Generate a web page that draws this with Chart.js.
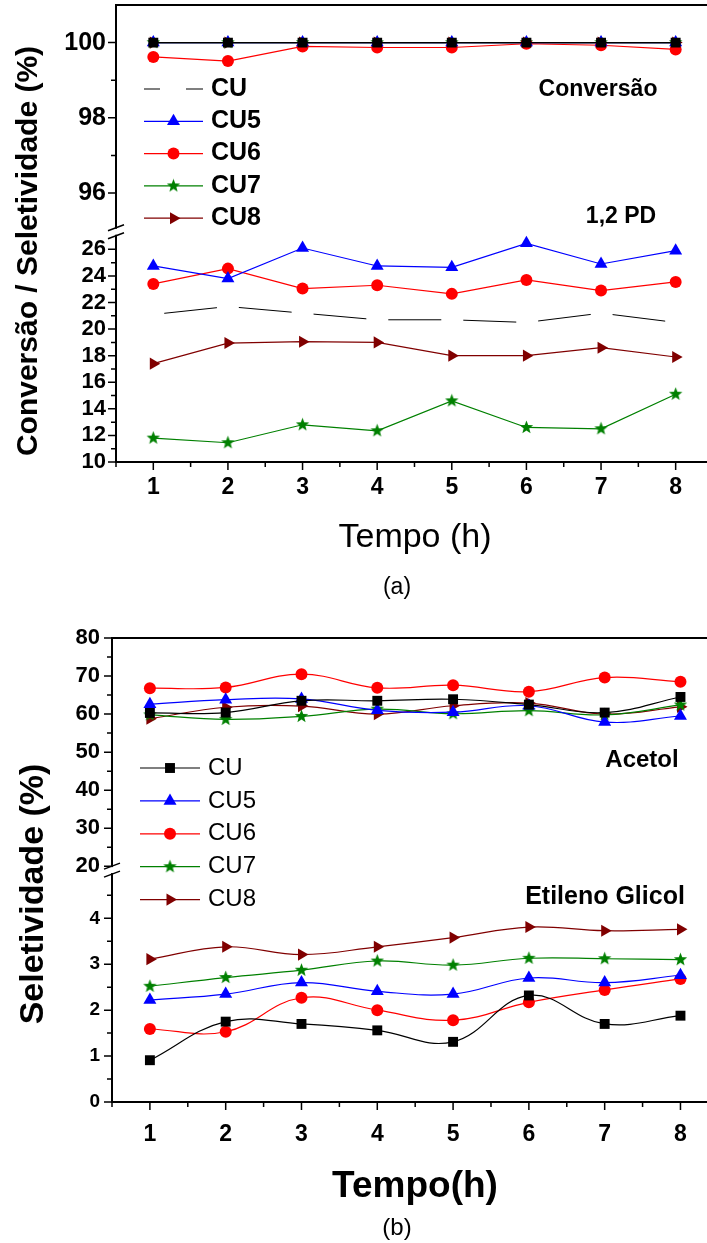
<!DOCTYPE html>
<html>
<head>
<meta charset="utf-8">
<script src="https://cdn.jsdelivr.net/npm/chart.js@4.4.0/dist/chart.umd.min.js"></script>
<style>
html, body { margin: 0; padding: 0; background: #fff; }
#wrap { position: relative; width: 707px; height: 1243px; overflow: hidden; }
#boxA { position: absolute; left: 0; top: -10px; }
#boxB { position: absolute; left: 0; top: 605px; }
</style>
</head>
<body>
<div id="wrap">
  <div id="boxA"><canvas id="chartA" width="707" height="610"></canvas></div>
  <div id="boxB"><canvas id="chartB" width="707" height="638"></canvas></div>
</div>
<script>
// ---- data ----
const tempo = [1, 2, 3, 4, 5, 6, 7, 8];
const series = ['CU', 'CU5', 'CU6', 'CU7', 'CU8'];

// (a) conversao (%)
const convCU  = [100, 100, 100, 100, 100, 100, 100, 100];
const convCU5 = [100, 100, 100, 100, 100, 100, 100, 100];
const convCU6 = [99.62, 99.51, 99.9, 99.87, 99.87, 99.97, 99.93, 99.82];
const convCU7 = [100, 100, 100, 100, 100, 100, 100, 100];
const convCU8 = [100, 100, 100, 100, 100, 100, 100, 100];

// (a) seletividade 1,2 PD (%)
const pdCU  = [21.1, 21.7, 21.2, 20.7, 20.7, 20.5, 21.2, 20.5];
const pdCU5 = [24.75, 23.8, 26.1, 24.75, 24.65, 26.45, 24.9, 25.9];
const pdCU6 = [23.4, 24.55, 23.05, 23.3, 22.65, 23.7, 22.9, 23.55];
const pdCU7 = [11.8, 11.45, 12.8, 12.35, 14.6, 12.6, 12.5, 15.1];
const pdCU8 = [17.4, 18.95, 19.05, 19.0, 18.0, 18.0, 18.6, 17.9];

// (b) seletividade acetol (%)
const acCU  = [60.3, 60.4, 63.5, 63.5, 63.9, 62.5, 60.4, 64.5];
const acCU5 = [62.6, 63.8, 64.0, 61.0, 60.5, 62.2, 57.9, 59.5];
const acCU6 = [66.8, 67.0, 70.5, 66.9, 67.6, 65.9, 69.6, 68.5];
const acCU7 = [59.8, 58.6, 59.4, 61.3, 60.1, 60.9, 59.8, 62.4];
const acCU8 = [58.8, 61.8, 62.1, 60.0, 62.2, 62.9, 60.0, 61.9];

// (b) seletividade etileno glicol (%)
const egCU  = [0.91, 1.75, 1.70, 1.56, 1.31, 2.32, 1.70, 1.88];
const egCU5 = [2.22, 2.35, 2.60, 2.41, 2.35, 2.70, 2.60, 2.76];
const egCU6 = [1.59, 1.53, 2.27, 2.00, 1.78, 2.17, 2.44, 2.68];
const egCU7 = [2.52, 2.71, 2.87, 3.07, 2.98, 3.13, 3.12, 3.10];
const egCU8 = [3.11, 3.38, 3.21, 3.38, 3.58, 3.81, 3.73, 3.76];

// ---- styles ----
const FONT = '"Liberation Sans", Arial, sans-serif';
const colors = ['#000000', '#0000ff', '#ff0000', '#008000', '#800000'];
const rotations = [0, 0, 0, 0, 90];
const radii = [7, 7.5, 6, 7, 7];

// filled five point star, used as point image for CU7
const starImage = (color, size) => {
    const c = document.createElement('canvas');
    c.width = size; c.height = size;
    const g = c.getContext('2d');
    const R = size / 2 - 0.5, r = R * 0.42;
    g.beginPath();
    for (let i = 0; i < 10; i++) {
        const a = -Math.PI / 2 + i * Math.PI / 5;
        const rr = i % 2 ? r : R;
        g.lineTo(size / 2 + rr * Math.cos(a), size / 2 + rr * Math.sin(a));
    }
    g.closePath();
    g.fillStyle = color;
    g.fill();
    return c;
};
const STAR = starImage('#008000', 15);
const markers = ['rect', 'triangle', 'circle', STAR, 'triangle'];

const pts = (vals) => tempo.map((t, k) => ({x: t, y: vals[k]}));

const line = (i, vals, axis, extra) => Object.assign({
    label: series[i],
    data: pts(vals),
    yAxisID: axis,
    borderColor: colors[i],
    backgroundColor: colors[i],
    pointBackgroundColor: colors[i],
    pointBorderColor: colors[i],
    pointStyle: markers[i],
    pointRotation: rotations[i],
    pointRadius: radii[i],
    pointBorderWidth: 0,
    borderWidth: 1.2,
    tension: 0,
    clip: 10,
    order: i
}, extra || {});

// marker for the hand drawn legend
const drawMarker = (ctx, i, x, y) => {
    const m = markers[i], r = radii[i];
    ctx.save();
    ctx.fillStyle = colors[i];
    ctx.translate(x, y);
    ctx.rotate(rotations[i] * Math.PI / 180);
    if (m instanceof HTMLCanvasElement) {
        ctx.drawImage(m, -m.width / 2, -m.height / 2);
    } else if (m === 'circle') {
        ctx.beginPath(); ctx.arc(0, 0, r, 0, 2 * Math.PI); ctx.fill();
    } else if (m === 'rect') {
        const s = r * Math.SQRT1_2;
        ctx.fillRect(-s, -s, 2 * s, 2 * s);
    } else if (m === 'triangle') {
        ctx.beginPath();
        for (let k = 0; k < 3; k++) {
            const a = k * 2 * Math.PI / 3;
            ctx.lineTo(Math.sin(a) * r, -Math.cos(a) * r);
        }
        ctx.closePath(); ctx.fill();
    }
    ctx.restore();
};

////////////////////////////////////////
// ticks, frame, axis break, texts, legend
////////////////////////////////////////
const decor = (cfg) => ({
    id: 'decor',
    afterDraw(chart) {
        const ctx = chart.ctx, area = chart.chartArea;
        const sx = chart.scales.x, lo = chart.scales.yLow, up = chart.scales.yUp;
        ctx.save();
        ctx.strokeStyle = '#000';
        ctx.lineWidth = 1.5;
        ctx.beginPath();
        sx.ticks.forEach(t => {
            const px = sx.getPixelForValue(t.value);
            const len = Number.isInteger(t.value) ? 8 : 5;
            ctx.moveTo(px, sx.top); ctx.lineTo(px, sx.top + len);
        });
        [lo, up].forEach(s => s.ticks.forEach(t => {
            const py = s.getPixelForValue(t.value);
            const len = t.label !== '' ? 8 : 5;
            ctx.moveTo(s.right - len, py); ctx.lineTo(s.right, py);
        }));
        ctx.stroke();

        // top frame line
        ctx.lineWidth = 2;
        ctx.beginPath();
        ctx.moveTo(area.left - 1, area.top); ctx.lineTo(area.right, area.top);
        ctx.stroke();

        // axis break
        const yb = lo.top + cfg.breakShift;
        ctx.fillStyle = '#fff';
        ctx.fillRect(area.left - 3, yb - 3, 6, 6);
        ctx.lineWidth = 1.5;
        ctx.beginPath();
        [-4, 4].forEach(d => {
            ctx.moveTo(area.left - 8, yb + d + 3);
            ctx.lineTo(area.left + 8, yb + d - 3);
        });
        ctx.stroke();

        // texts and legend use page coordinates of the panel
        ctx.translate(0, cfg.shift);
        ctx.fillStyle = '#000';
        cfg.texts.forEach(t => {
            ctx.save();
            ctx.font = t.font;
            ctx.translate(t.x, t.y);
            if (t.rot) {
                ctx.rotate(-Math.PI / 2);
                ctx.textBaseline = 'alphabetic';
            } else {
                ctx.textBaseline = 'middle';
            }
            ctx.textAlign = 'center';
            ctx.fillText(t.text, 0, 0);
            ctx.restore();
        });

        const lg = cfg.legend;
        series.forEach((name, i) => {
            const y = lg.y0 + i * lg.dy;
            ctx.save();
            ctx.strokeStyle = colors[i];
            ctx.lineWidth = 1.2;
            ctx.beginPath();
            if (i === 0 && lg.dashedFirst) {
                ctx.moveTo(lg.x0, y); ctx.lineTo(lg.x0 + 16, y);
                ctx.moveTo(lg.x1 - 17, y); ctx.lineTo(lg.x1, y);
            } else {
                ctx.moveTo(lg.x0, y); ctx.lineTo(lg.x1, y);
            }
            ctx.stroke();
            ctx.restore();
            if (!(i === 0 && lg.dashedFirst)) drawMarker(ctx, i, (lg.x0 + lg.x1) / 2, y);
            ctx.font = lg.font;
            ctx.fillStyle = '#000';
            ctx.textAlign = 'left';
            ctx.textBaseline = 'middle';
            ctx.fillText(name, lg.xt, y);
        });
        ctx.restore();
    }
});

const xAxis = (max, pad, axisHeight) => ({
    type: 'linear', position: 'bottom', min: 0.5, max: max,
    afterBuildTicks: (s) => { s.ticks = s.ticks.filter(t => (t.value * 2) % 1 === 0); },
    afterFit: (s) => { s.height = axisHeight; },
    ticks: {
        stepSize: 0.5, autoSkip: false, includeBounds: false, maxRotation: 0, minRotation: 0,
        padding: pad, color: '#000',
        font: {family: FONT, size: 23, weight: 'bold'},
        callback: (v) => Number.isInteger(v) ? v : ''
    },
    grid: {display: false, drawTicks: false},
    border: {display: true, color: '#000', width: 2}
});

// small lineHeight so the tick labels do not push the plot area down
const yAxis = (o) => ({
    type: 'linear', position: 'left', stack: o.stack, stackWeight: o.weight,
    min: o.min, max: o.max,
    afterBuildTicks: (s) => { s.ticks = s.ticks.filter(o.keep); },
    afterFit: (s) => { s.width = o.width; },
    ticks: {
        stepSize: o.step, autoSkip: false, includeBounds: false, padding: o.pad, color: '#000',
        font: {family: FONT, size: o.size, weight: 'bold', lineHeight: 0.2},
        callback: o.label
    },
    grid: {display: false, drawTicks: false},
    border: {display: true, color: '#000', width: 2}
});

const common = {
    responsive: false,
    devicePixelRatio: 1,
    animation: false,
    events: [],
    plugins: {legend: {display: false}, tooltip: {enabled: false}}
};

/////////////
// panel a //
/////////////
const convAll = [convCU, convCU5, convCU6, convCU7, convCU8];
const pdAll = [pdCU, pdCU5, pdCU6, pdCU7, pdCU8];

new Chart(document.getElementById('chartA'), {
    type: 'line',
    data: {
        datasets: [
            ...convAll.map((v, i) => line(i, v, 'yUp')),
            ...pdAll.map((v, i) => line(i, v, 'yLow', i === 0 ?
                {pointRadius: 0, borderDash: [53, 22], borderDashOffset: 64, borderWidth: 1} : {}))
        ]
    },
    options: Object.assign({}, common, {
        layout: {autoPadding: false, padding: {top: 15, left: 0, right: 0, bottom: 0}},
        scales: {
            x: xAxis(8.42, 12, 138),
            yLow: yAxis({stack: 'a', weight: 230.5, min: 10, max: 27.4, step: 1, width: 116, pad: 10, size: 22,
                keep: t => Number.isInteger(t.value) && t.value <= 26,
                label: v => v % 2 === 0 ? v : ''}),
            yUp: yAxis({stack: 'a', weight: 225, min: 95, max: 101, step: 1, width: 116, pad: 10, size: 25,
                keep: t => Number.isInteger(t.value) && t.value >= 96 && t.value <= 100,
                label: v => v % 2 === 0 ? v : ''})
        }
    }),
    plugins: [decor({
        breakShift: 1,
        shift: 10,
        texts: [
            {text: 'Conversão / Seletividade (%)', x: 37, y: 251, font: 'bold 30px ' + FONT, rot: true},
            {text: 'Conversão', x: 598, y: 90, font: 'bold 23px ' + FONT},
            {text: '1,2 PD', x: 621, y: 217, font: 'bold 23px ' + FONT},
            {text: 'Tempo (h)', x: 415, y: 538, font: '34px ' + FONT},
            {text: '(a)', x: 397, y: 588, font: '23px ' + FONT}
        ],
        legend: {x0: 144, x1: 203, xt: 211, y0: 89, dy: 32.3, font: 'bold 25px ' + FONT, dashedFirst: true}
    })]
});

/////////////
// panel b //
/////////////
const acAll = [acCU, acCU5, acCU6, acCU7, acCU8];
const egAll = [egCU, egCU5, egCU6, egCU7, egCU8];

new Chart(document.getElementById('chartB'), {
    type: 'line',
    data: {
        datasets: [
            ...acAll.map((v, i) => line(i, v, 'yUp', {tension: 0.4})),
            ...egAll.map((v, i) => line(i, v, 'yLow', {tension: 0.4}))
        ]
    },
    options: Object.assign({}, common, {
        layout: {autoPadding: false, padding: {top: 33, left: 0, right: 0, bottom: 0}},
        scales: {
            x: xAxis(8.35, 19, 141),
            yLow: yAxis({stack: 'b', weight: 230.3, min: 0, max: 5.05, step: 0.5, width: 112, pad: 12, size: 19,
                keep: t => (t.value * 2) % 1 === 0 && t.value <= 4.5,
                label: v => Number.isInteger(v) ? v : ''}),
            yUp: yAxis({stack: 'b', weight: 230.5, min: 19, max: 80, step: 5, width: 112, pad: 12, size: 22,
                keep: t => t.value % 5 === 0 && t.value >= 20,
                label: v => v % 10 === 0 ? v : ''})
        }
    }),
    plugins: [decor({
        breakShift: 0,
        shift: 0,
        texts: [
            {text: 'Seletividade (%)', x: 43, y: 289, font: 'bold 34px ' + FONT, rot: true},
            {text: 'Acetol', x: 642, y: 155, font: 'bold 24px ' + FONT},
            {text: 'Etileno Glicol', x: 605, y: 292, font: 'bold 25px ' + FONT},
            {text: 'Tempo(h)', x: 415, y: 582, font: 'bold 37px ' + FONT},
            {text: '(b)', x: 397, y: 623, font: '24px ' + FONT}
        ],
        legend: {x0: 140, x1: 200, xt: 208, y0: 163, dy: 32.9, font: '24px ' + FONT, dashedFirst: false}
    })]
});
</script>
</body>
</html>
